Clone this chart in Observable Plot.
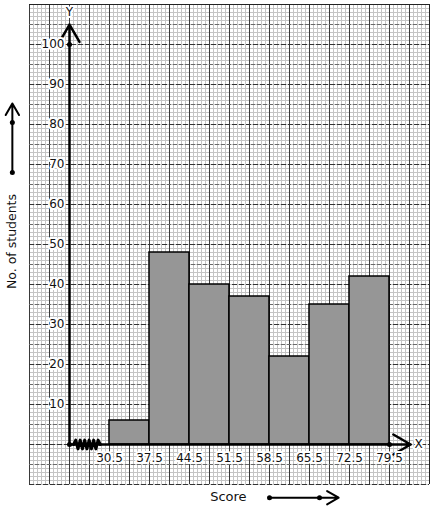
<!DOCTYPE html>
<html><head><meta charset="utf-8">
<script src="https://cdn.jsdelivr.net/npm/d3@7"></script>
<script src="https://cdn.jsdelivr.net/npm/@observablehq/plot@0.6"></script>
<style>body{margin:0;background:#fff;font-family:"DejaVu Sans",sans-serif}svg{overflow:visible;display:block}</style>
</head><body><div id="chart"></div>
<script>
// Class boundaries and frequencies
const lower = [30.5, 37.5, 44.5, 51.5, 58.5, 65.5, 72.5];
const upper = [37.5, 44.5, 51.5, 58.5, 65.5, 72.5, 79.5];
const students = [6, 48, 40, 37, 22, 35, 42];
const xTickLabels = ["30.5","37.5","44.5","51.5","58.5","65.5","72.5","79.5"];
const yTickValues = [10,20,30,40,50,60,70,80,90,100];

const bars = lower.map((l,i)=>({x1:l, x2:upper[i], y:students[i]}));
const xTicks = xTickLabels.map(t=>({x:+t, label:t}));

const origin = 23.5;      // broken-axis origin in score units
const xmin = 16.5, xmax = 86.5, ymin = -10, ymax = 110;
const minorX = d3.range(0, 101).map(i => xmin + i*0.7);
const majorX = d3.range(0, 21).map(i => xmin + i*3.5);
const minorY = d3.range(ymin, ymax+1, 1);
const majorY10 = d3.range(ymin, ymax+1, 10);
const majorY5 = d3.range(ymin+5, ymax, 10);
const nz = 12;
const zig = d3.range(0, nz+1).map(i => ({x: 24.2 + i*(28.9-24.2)/nz, y: i===0||i===nz ? 0 : (i%2 ? 1.1 : -1.1)}));

const font = "DejaVu Sans";
const chart = Plot.plot({
  width: 434, height: 510,
  marginLeft: 29, marginRight: 5, marginTop: 4, marginBottom: 26,
  x: {domain: [xmin, xmax], axis: null},
  y: {domain: [ymin, ymax], axis: null},
  style: {fontFamily: font, fontSize: "12px", background: "white"},
  marks: [
    Plot.ruleX(minorX, {y1: ymin, y2: ymax, stroke: "#c4c4c4", strokeWidth: 1}),
    Plot.ruleY(minorY, {x1: xmin, x2: xmax, stroke: "#c4c4c4", strokeWidth: 1}),
    Plot.ruleX(majorX, {y1: ymin, y2: ymax, stroke: "#3a3a3a", strokeWidth: 1}),
    Plot.ruleY(majorY5, {x1: xmin, x2: xmax, stroke: "#6a6a6a", strokeWidth: 1, strokeDasharray: "4,2"}),
    Plot.ruleY(majorY10, {x1: xmin, x2: xmax, stroke: "#333", strokeWidth: 1, strokeDasharray: "5,2"}),
    Plot.ruleY([ymax], {x1: xmin, x2: xmax, stroke: "#222", strokeWidth: 1}),
    Plot.ruleX([xmax], {y1: ymin, y2: ymax, stroke: "#222", strokeWidth: 1}),
    Plot.rectY(bars, {x1: "x1", x2: "x2", y: "y", fill: "#969696", stroke: "black", strokeWidth: 1.5}),
    // axes
    Plot.arrow([0], {x1: origin, y1: 0, x2: origin, y2: 105, stroke: "black", strokeWidth: 2.5, headLength: 12}),
    Plot.arrow([0], {x1: origin, y1: 0, x2: 83.2, y2: 0, stroke: "black", strokeWidth: 2.5, headLength: 12}),
    Plot.line(zig, {x: "x", y: "y", stroke: "black", strokeWidth: 3}),
    Plot.dot([{x: origin, y: 0}, {x: origin, y: 100}, {x: 79.5, y: 0}], {x: "x", y: "y", r: 2.5, fill: "black"}),
    // tick labels
    Plot.text(yTickValues, {x: origin, y: d => d, text: d => String(d), dx: -5, textAnchor: "end", fill: "#111", stroke: "white", strokeWidth: 4, fontSize: 12}),
    Plot.text(xTicks, {x: "x", y: -3.3, text: "label", fill: "#111", stroke: "white", strokeWidth: 4, fontSize: 12}),
    Plot.text(["Y"], {x: origin, y: 108, text: d => d, fill: "#111", stroke: "white", strokeWidth: 4, fontSize: 12}),
    Plot.text(["X"], {x: 84.6, y: 0, text: d => d, fill: "#111", stroke: "white", strokeWidth: 4, fontSize: 12}),
    // axis titles with arrows
    Plot.text(["Score"], {x: 51.3, y: -13.1, text: d => d, fill: "#111", fontSize: 13}),
    Plot.arrow([0], {x1: 58.5, y1: -13.3, x2: 70.6, y2: -13.3, stroke: "black", strokeWidth: 2, headLength: 10}),
    Plot.dot([58.5, 67.25], {x: d => d, y: -13.3, r: 2.5, fill: "black"}),
    Plot.text(["No. of students"], {x: 13.5, y: 50.75, text: d => d, rotate: -90, fill: "#111", fontSize: 12.5}),
    Plot.arrow([0], {x1: 13.5, y1: 68, x2: 13.5, y2: 85.25, stroke: "black", strokeWidth: 2, headLength: 10}),
    Plot.dot([68, 80.5], {x: 13.5, y: d => d, r: 2.5, fill: "black"})
  ]
});
document.getElementById("chart").append(chart);
</script></body></html>
